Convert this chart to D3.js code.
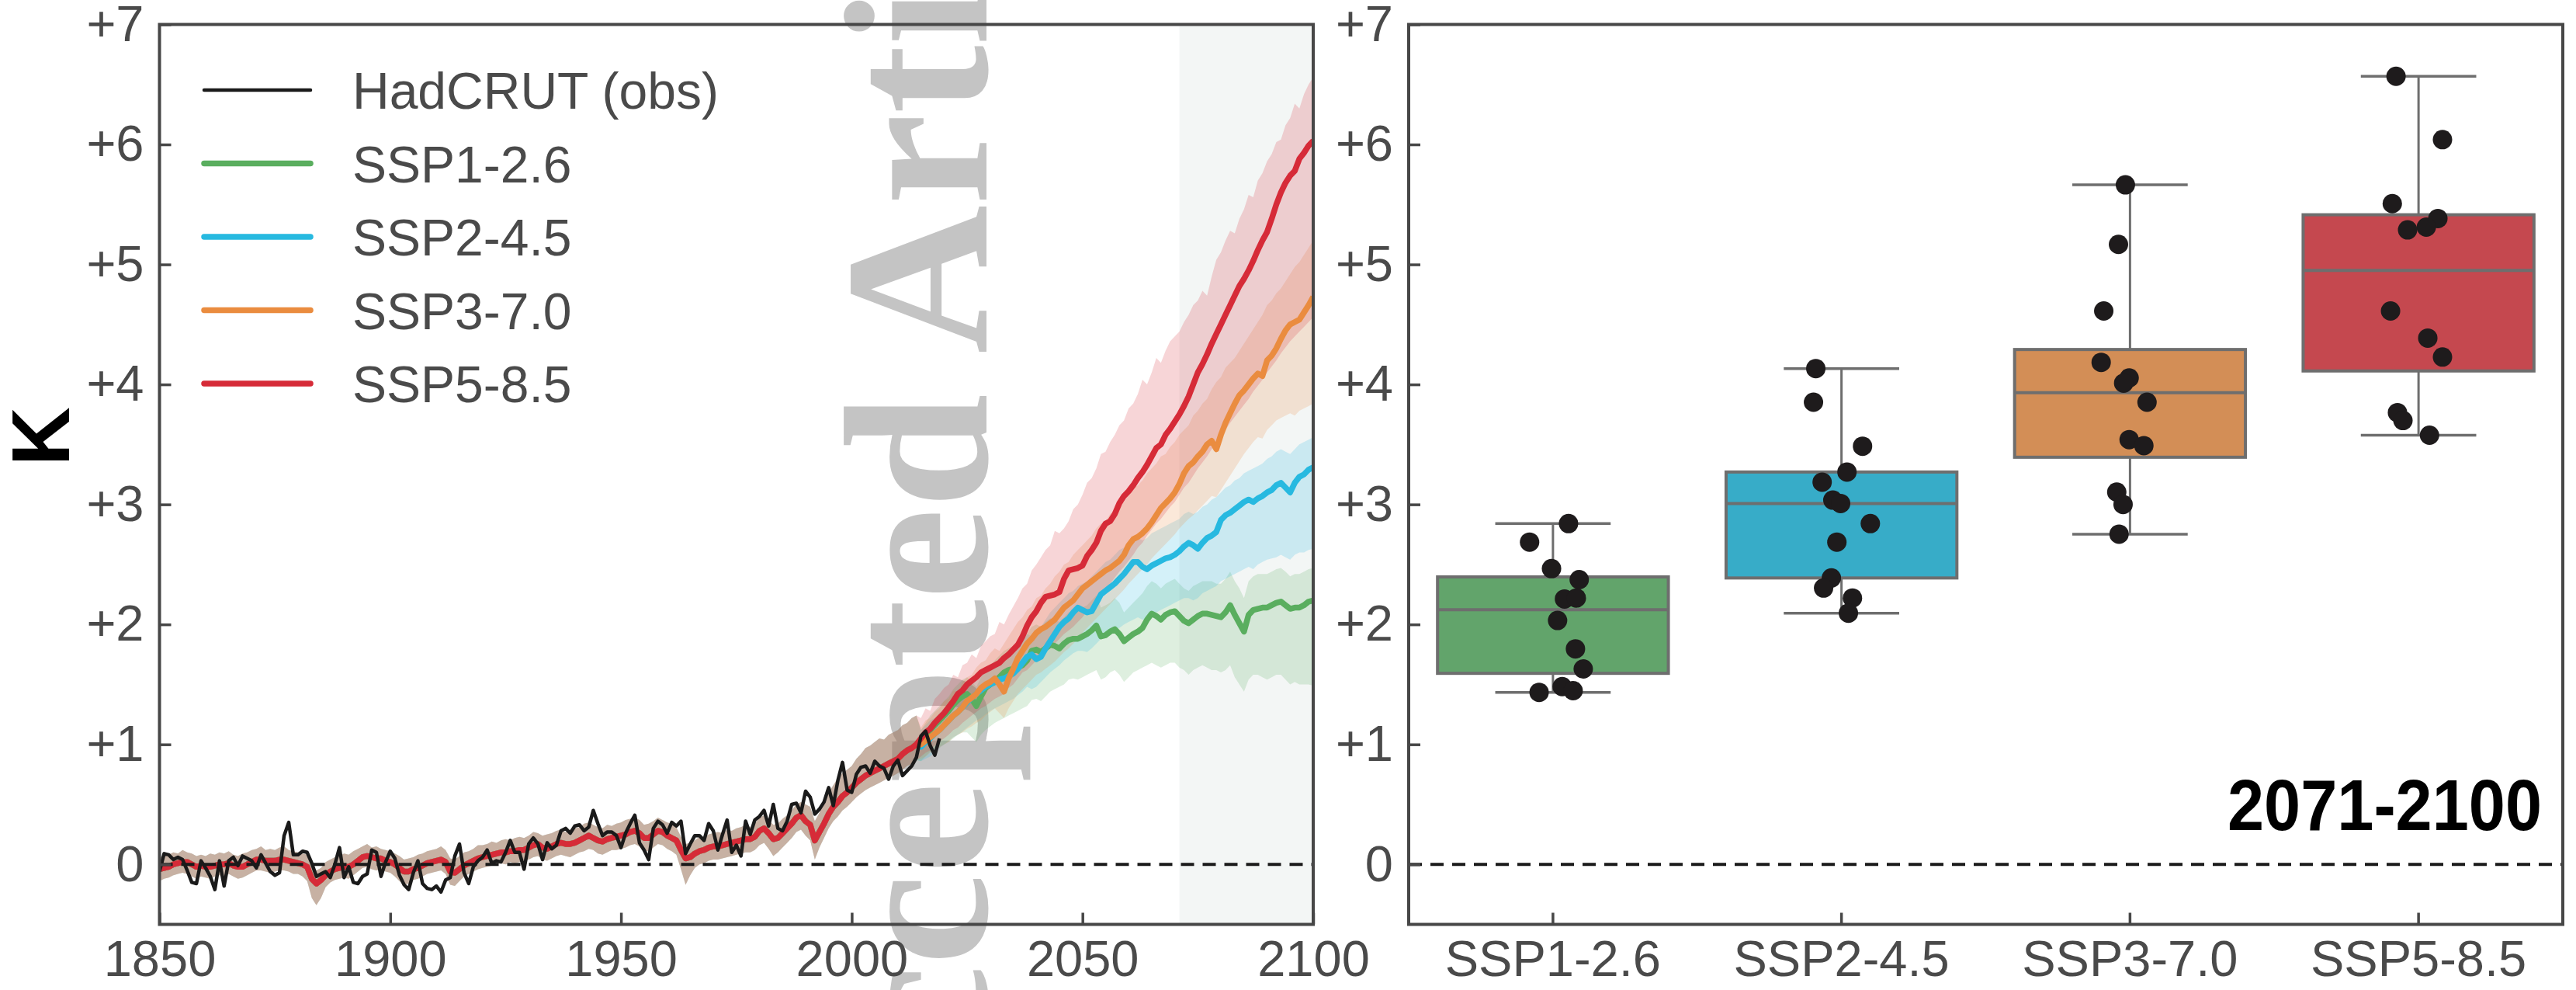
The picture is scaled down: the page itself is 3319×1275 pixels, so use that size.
<!DOCTYPE html>
<html>
<head>
<meta charset="utf-8">
<script src="https://cdn.jsdelivr.net/npm/d3@7"></script>
<style>
  html, body { margin: 0; padding: 0; background: #ffffff; }
  svg { display: block; }
</style>
</head>
<body>
<svg id="fig" width="3319" height="1275"></svg>
<script>
// ---------------------------------------------------------------------------
// Data
// ---------------------------------------------------------------------------
const scenarios = ["SSP1-2.6", "SSP2-4.5", "SSP3-7.0", "SSP5-8.5"];
const lineColors = ["#5aae5f", "#27b9e0", "#ea8c3f", "#d62b38"];
const boxColors = ["#62a46b", "#37acc8", "#d38e56", "#c5484f"];
const yTicks = [0, 1, 2, 3, 4, 5, 6, 7];
const xTicks = [1850, 1900, 1950, 2000, 2050, 2100];
const obsStart = 1850, histStart = 1850, futStart = 2015;
const periodWindow = [2071, 2100];
const periodLabel = "2071-2100";

// HadCRUT observed anomaly (K), annual, 1850-2019
const hadcrut = [
  -0.06, 0.09, 0.08, 0.04, 0.06, 0.04,-0.05,-0.15,-0.16, 0.03,
  -0.03,-0.10,-0.21, 0.03,-0.18, 0.03, 0.06,-0.01, 0.07, 0.05,
   0.03,-0.03, 0.08, 0.01,-0.06,-0.09,-0.07, 0.24, 0.35, 0.08,
   0.08, 0.11, 0.10, 0.01,-0.10,-0.08,-0.06,-0.11, 0.00, 0.14,
  -0.11,-0.02,-0.15,-0.16,-0.10,-0.08, 0.12, 0.10,-0.10, 0.02,
   0.11, 0.05,-0.09,-0.17,-0.21,-0.07, 0.03,-0.16,-0.20,-0.21,
  -0.18,-0.23,-0.13,-0.11, 0.07, 0.17,-0.07,-0.16,-0.02, 0.03,
   0.06, 0.12, 0.01, 0.03, 0.02, 0.10, 0.20, 0.10, 0.10,-0.04,
   0.17, 0.22, 0.17, 0.04, 0.18, 0.13, 0.16, 0.28, 0.30, 0.26,
   0.32, 0.33, 0.28, 0.31, 0.45, 0.34, 0.24, 0.27, 0.27, 0.24,
   0.14, 0.26, 0.34, 0.41, 0.18, 0.12, 0.04, 0.30, 0.36, 0.33,
   0.26, 0.35, 0.32, 0.36, 0.09, 0.17, 0.24, 0.24, 0.20, 0.34,
   0.28, 0.12, 0.25, 0.37, 0.10, 0.16, 0.07, 0.36, 0.25, 0.37,
   0.40, 0.45, 0.32, 0.50, 0.30, 0.28, 0.36, 0.50, 0.51, 0.43,
   0.61, 0.56, 0.42, 0.46, 0.52, 0.64, 0.49, 0.70, 0.85, 0.62,
   0.60, 0.75, 0.81, 0.82, 0.76, 0.86, 0.82, 0.80, 0.71, 0.82,
   0.87, 0.74, 0.78, 0.82, 0.89, 1.07, 1.11, 0.99, 0.91, 1.05
];

// Multi-model historical mean and range (K), 1850-2014
const histMean = [
  -0.04,-0.03,-0.02, 0.00, 0.01, 0.02, 0.02, 0.00,-0.02,-0.01,
  -0.02,-0.02,-0.01, 0.00, 0.00, 0.01,-0.01,-0.02,-0.02, 0.00,
   0.02, 0.04, 0.04, 0.03, 0.03, 0.03, 0.04, 0.04, 0.03, 0.02,
   0.01, 0.00,-0.02,-0.12,-0.16,-0.13,-0.09,-0.06,-0.04,-0.03,
  -0.02,-0.02, 0.00, 0.03, 0.06, 0.07, 0.06, 0.05, 0.05, 0.03,
   0.02, 0.00,-0.03,-0.06,-0.06,-0.04,-0.03,-0.01, 0.01, 0.02,
   0.03, 0.04, 0.02,-0.06,-0.07,-0.04,-0.01, 0.01, 0.03, 0.05,
   0.06, 0.07, 0.08, 0.09, 0.10, 0.10, 0.11, 0.11, 0.12, 0.12,
   0.14, 0.16, 0.17, 0.14, 0.13, 0.15, 0.17, 0.18, 0.17, 0.17,
   0.18, 0.20, 0.22, 0.24, 0.22, 0.20, 0.19, 0.21, 0.22, 0.23,
   0.24, 0.25, 0.27, 0.28, 0.26, 0.22, 0.22, 0.25, 0.28, 0.27,
   0.24, 0.22, 0.20, 0.12, 0.05, 0.06, 0.09, 0.11, 0.12, 0.14,
   0.15, 0.15, 0.16, 0.17, 0.18, 0.19, 0.20, 0.21, 0.21, 0.23,
   0.28, 0.30, 0.26, 0.21, 0.22, 0.26, 0.30, 0.34, 0.39, 0.41,
   0.36, 0.33, 0.20, 0.27, 0.34, 0.42, 0.48, 0.52, 0.57, 0.60,
   0.64, 0.68, 0.71, 0.74, 0.76, 0.78, 0.80, 0.82, 0.84, 0.86,
   0.88, 0.92, 0.95, 0.97, 1.00
];
const histHigh = [
   0.06, 0.07, 0.08, 0.10, 0.09, 0.12, 0.10, 0.09, 0.07, 0.08,
   0.07, 0.09, 0.08, 0.10, 0.09, 0.11, 0.08, 0.07, 0.09, 0.10,
   0.12, 0.13, 0.15, 0.12, 0.13, 0.12, 0.14, 0.15, 0.12, 0.11,
   0.10, 0.09, 0.08, 0.00,-0.05,-0.03, 0.02, 0.04, 0.06, 0.07,
   0.09, 0.08, 0.11, 0.13, 0.15, 0.17, 0.14, 0.15, 0.13, 0.12,
   0.11, 0.09, 0.07, 0.04, 0.05, 0.06, 0.08, 0.09, 0.11, 0.12,
   0.13, 0.15, 0.12, 0.05, 0.04, 0.07, 0.10, 0.11, 0.13, 0.16,
   0.16, 0.17, 0.19, 0.18, 0.20, 0.21, 0.20, 0.22, 0.23, 0.22,
   0.24, 0.27, 0.26, 0.24, 0.25, 0.26, 0.28, 0.29, 0.27, 0.29,
   0.30, 0.31, 0.34, 0.35, 0.33, 0.31, 0.30, 0.33, 0.32, 0.34,
   0.35, 0.37, 0.38, 0.39, 0.37, 0.33, 0.34, 0.36, 0.39, 0.37,
   0.35, 0.34, 0.31, 0.23, 0.17, 0.18, 0.20, 0.23, 0.22, 0.25,
   0.26, 0.27, 0.26, 0.29, 0.28, 0.30, 0.31, 0.33, 0.31, 0.34,
   0.39, 0.41, 0.37, 0.33, 0.34, 0.38, 0.41, 0.45, 0.50, 0.52,
   0.50, 0.48, 0.36, 0.43, 0.52, 0.60, 0.66, 0.72, 0.76, 0.79,
   0.82, 0.88, 0.92, 0.97, 0.99, 1.02, 1.05, 1.04, 1.08, 1.10,
   1.12, 1.16, 1.18, 1.22, 1.24
];
const histLow = [
  -0.14,-0.12,-0.11,-0.09,-0.08,-0.07,-0.08,-0.10,-0.12,-0.10,
  -0.11,-0.12,-0.10,-0.09,-0.10,-0.08,-0.10,-0.12,-0.11,-0.09,
  -0.07,-0.05,-0.05,-0.06,-0.07,-0.06,-0.05,-0.05,-0.06,-0.08,
  -0.08,-0.10,-0.14,-0.28,-0.34,-0.28,-0.19,-0.15,-0.13,-0.12,
  -0.11,-0.12,-0.09,-0.06,-0.03,-0.02,-0.04,-0.05,-0.04,-0.06,
  -0.07,-0.10,-0.14,-0.17,-0.16,-0.13,-0.12,-0.10,-0.08,-0.07,
  -0.06,-0.05,-0.08,-0.17,-0.18,-0.14,-0.10,-0.08,-0.06,-0.04,
  -0.03,-0.02,-0.01, 0.00, 0.01, 0.00, 0.02, 0.01, 0.02, 0.03,
   0.04, 0.06, 0.07, 0.04, 0.03, 0.05, 0.07, 0.08, 0.07, 0.06,
   0.08, 0.10, 0.11, 0.13, 0.12, 0.09, 0.08, 0.10, 0.12, 0.12,
   0.13, 0.14, 0.16, 0.17, 0.15, 0.11, 0.11, 0.14, 0.17, 0.16,
   0.13, 0.11, 0.08,-0.04,-0.17,-0.09,-0.03, 0.00, 0.01, 0.03,
   0.04, 0.04, 0.05, 0.06, 0.07, 0.08, 0.09, 0.10, 0.10, 0.12,
   0.16, 0.18, 0.13, 0.07, 0.10, 0.14, 0.18, 0.22, 0.27, 0.29,
   0.24, 0.20, 0.04, 0.14, 0.22, 0.30, 0.36, 0.40, 0.45, 0.48,
   0.52, 0.56, 0.59, 0.62, 0.64, 0.66, 0.68, 0.70, 0.72, 0.74,
   0.76, 0.79, 0.82, 0.84, 0.87
];

// Scenario projections (K), annual, 2015-2100: mean, lower and upper model range
const ssp126Mean = [
  1.00,1.06,1.12,1.16,1.20,1.24,1.28,1.33,1.37,1.40,
  1.42,1.38,1.32,1.40,1.47,1.50,1.52,1.56,1.60,1.62,
  1.63,1.64,1.66,1.70,1.78,1.79,1.77,1.80,1.83,1.82,
  1.80,1.84,1.87,1.88,1.88,1.90,1.92,1.95,1.99,1.90,
  1.91,1.94,1.96,1.92,1.86,1.89,1.92,1.94,1.97,2.04,
  2.09,2.07,2.04,2.08,2.10,2.11,2.07,2.03,2.01,2.04,
  2.07,2.09,2.09,2.08,2.07,2.06,2.10,2.16,2.08,2.01,
  1.94,2.08,2.12,2.13,2.14,2.14,2.16,2.18,2.19,2.16,
  2.13,2.14,2.14,2.16,2.19,2.20
];
const ssp126Low = [
  0.86,0.90,0.94,0.96,0.98,1.00,1.02,1.05,1.08,1.10,
  1.10,1.06,1.02,1.08,1.12,1.15,1.18,1.20,1.22,1.24,
  1.26,1.28,1.30,1.32,1.37,1.38,1.36,1.40,1.44,1.46,
  1.48,1.50,1.54,1.55,1.54,1.56,1.58,1.60,1.62,1.54,
  1.56,1.60,1.62,1.58,1.52,1.56,1.60,1.62,1.64,1.66,
  1.68,1.66,1.64,1.66,1.68,1.68,1.64,1.62,1.58,1.62,
  1.64,1.66,1.64,1.62,1.62,1.60,1.62,1.66,1.56,1.50,
  1.44,1.54,1.58,1.58,1.56,1.54,1.56,1.58,1.58,1.54,
  1.50,1.52,1.50,1.50,1.50,1.49
];
const ssp126High = [
  1.12,1.18,1.24,1.28,1.32,1.36,1.40,1.46,1.50,1.54,
  1.56,1.52,1.48,1.56,1.62,1.66,1.70,1.74,1.78,1.80,
  1.82,1.84,1.86,1.92,1.98,2.00,1.98,2.02,2.05,2.04,
  2.02,2.06,2.10,2.12,2.12,2.14,2.16,2.20,2.24,2.14,
  2.16,2.18,2.22,2.18,2.10,2.14,2.18,2.22,2.26,2.32,
  2.36,2.34,2.30,2.34,2.36,2.38,2.34,2.30,2.28,2.32,
  2.34,2.36,2.36,2.36,2.34,2.34,2.38,2.44,2.36,2.30,
  2.22,2.36,2.40,2.42,2.42,2.42,2.44,2.46,2.47,2.44,
  2.40,2.42,2.42,2.44,2.46,2.47
];

const ssp245Mean = [
  0.98,1.02,1.05,1.09,1.12,1.16,1.20,1.24,1.27,1.31,
  1.35,1.39,1.42,1.45,1.48,1.50,1.52,1.54,1.55,1.57,
  1.59,1.63,1.68,1.73,1.75,1.71,1.73,1.80,1.86,1.92,
  1.98,2.02,2.05,2.10,2.14,2.12,2.10,2.11,2.18,2.25,
  2.28,2.31,2.34,2.38,2.42,2.47,2.52,2.52,2.48,2.46,
  2.49,2.51,2.53,2.55,2.56,2.58,2.61,2.65,2.68,2.66,
  2.63,2.68,2.72,2.74,2.77,2.87,2.91,2.93,2.96,2.99,
  3.02,3.04,3.02,3.05,3.07,3.10,3.12,3.16,3.18,3.14,
  3.10,3.18,3.23,3.25,3.29,3.31
];
const ssp245Low = [
  0.86,0.88,0.90,0.93,0.97,1.00,1.03,1.06,1.08,1.11,
  1.14,1.17,1.20,1.22,1.25,1.28,1.30,1.32,1.34,1.36,
  1.38,1.41,1.44,1.48,1.46,1.48,1.52,1.56,1.60,1.63,
  1.66,1.70,1.73,1.76,1.78,1.78,1.77,1.80,1.84,1.88,
  1.90,1.92,1.95,1.97,2.00,2.02,2.04,2.06,2.04,2.04,
  2.08,2.10,2.12,2.14,2.16,2.18,2.20,2.22,2.22,2.20,
  2.22,2.26,2.28,2.30,2.32,2.36,2.38,2.40,2.42,2.44,
  2.46,2.48,2.46,2.50,2.52,2.54,2.55,2.56,2.58,2.56,
  2.54,2.58,2.60,2.60,2.62,2.63
];
const ssp245High = [
  1.12,1.16,1.20,1.22,1.26,1.30,1.33,1.38,1.40,1.44,
  1.48,1.50,1.54,1.58,1.62,1.66,1.68,1.72,1.74,1.78,
  1.80,1.84,1.88,1.92,1.90,1.95,1.98,2.04,2.10,2.14,
  2.18,2.22,2.26,2.28,2.32,2.34,2.36,2.40,2.44,2.48,
  2.52,2.54,2.58,2.62,2.64,2.66,2.70,2.72,2.70,2.72,
  2.76,2.78,2.80,2.82,2.84,2.86,2.88,2.92,2.94,2.92,
  2.94,2.98,3.00,3.04,3.06,3.10,3.14,3.16,3.20,3.22,
  3.26,3.28,3.30,3.32,3.34,3.38,3.40,3.44,3.46,3.44,
  3.42,3.46,3.50,3.52,3.54,3.56
];

const ssp370Mean = [
  1.00,1.03,1.06,1.09,1.12,1.16,1.20,1.24,1.27,1.31,
  1.36,1.39,1.42,1.47,1.50,1.52,1.55,1.50,1.44,1.55,
  1.63,1.72,1.78,1.84,1.88,1.93,1.96,1.98,2.01,2.04,
  2.09,2.14,2.17,2.20,2.25,2.30,2.33,2.36,2.39,2.42,
  2.45,2.47,2.50,2.53,2.58,2.66,2.71,2.73,2.76,2.80,
  2.85,2.91,2.97,3.01,3.05,3.10,3.17,3.26,3.32,3.35,
  3.40,3.44,3.50,3.53,3.46,3.58,3.68,3.76,3.84,3.91,
  3.95,4.00,4.05,4.09,4.07,4.20,4.24,4.30,4.38,4.45,
  4.50,4.52,4.54,4.60,4.66,4.73
];
const ssp370Low = [
  0.88,0.90,0.93,0.95,0.97,1.00,1.02,1.06,1.08,1.10,
  1.13,1.15,1.18,1.20,1.24,1.27,1.30,1.26,1.22,1.30,
  1.36,1.42,1.46,1.50,1.54,1.58,1.60,1.63,1.66,1.69,
  1.73,1.77,1.80,1.84,1.88,1.93,1.97,2.01,2.05,2.09,
  2.13,2.17,2.21,2.25,2.29,2.34,2.38,2.42,2.46,2.50,
  2.55,2.59,2.63,2.67,2.71,2.75,2.80,2.84,2.88,2.91,
  2.95,2.99,3.03,3.07,3.06,3.12,3.18,3.24,3.30,3.36,
  3.42,3.47,3.52,3.56,3.55,3.62,3.66,3.70,3.72,3.74,
  3.76,3.74,3.78,3.80,3.82,3.84
];
const ssp370High = [
  1.14,1.20,1.22,1.27,1.30,1.36,1.38,1.45,1.44,1.52,
  1.56,1.58,1.64,1.68,1.70,1.76,1.80,1.78,1.84,1.90,
  1.96,2.02,2.06,2.12,2.15,2.22,2.24,2.30,2.34,2.40,
  2.44,2.50,2.52,2.58,2.62,2.66,2.70,2.74,2.80,2.84,
  2.86,2.92,2.96,3.00,3.02,3.08,3.14,3.16,3.20,3.26,
  3.30,3.34,3.40,3.42,3.48,3.52,3.58,3.62,3.66,3.74,
  3.78,3.84,3.88,3.96,4.02,4.06,4.14,4.18,4.22,4.28,
  4.34,4.40,4.46,4.52,4.58,4.66,4.70,4.76,4.80,4.86,
  4.92,4.98,5.02,5.08,5.14,5.20
];

const ssp585Mean = [
  1.05,1.10,1.13,1.18,1.22,1.26,1.31,1.36,1.42,1.45,
  1.50,1.53,1.56,1.60,1.62,1.64,1.66,1.68,1.72,1.75,
  1.79,1.83,1.90,1.99,2.06,2.11,2.18,2.23,2.24,2.25,
  2.27,2.38,2.45,2.46,2.47,2.49,2.57,2.62,2.68,2.78,
  2.84,2.86,2.92,3.01,3.07,3.11,3.16,3.22,3.27,3.33,
  3.40,3.47,3.50,3.58,3.63,3.69,3.75,3.82,3.90,4.00,
  4.10,4.17,4.25,4.34,4.42,4.50,4.58,4.66,4.74,4.82,
  4.88,4.95,5.03,5.12,5.20,5.27,5.38,5.50,5.60,5.68,
  5.74,5.78,5.88,5.93,5.99,6.03
];
const ssp585Low = [
  0.90,0.93,0.95,0.99,1.02,1.05,1.08,1.12,1.14,1.18,
  1.21,1.24,1.27,1.30,1.32,1.35,1.38,1.40,1.42,1.47,
  1.50,1.55,1.60,1.62,1.66,1.70,1.74,1.78,1.80,1.84,
  1.88,1.92,1.95,1.98,2.02,2.06,2.11,2.15,2.20,2.26,
  2.30,2.34,2.39,2.44,2.48,2.53,2.58,2.64,2.68,2.74,
  2.79,2.84,2.88,2.93,2.98,3.02,3.08,3.14,3.18,3.24,
  3.30,3.35,3.40,3.46,3.51,3.57,3.62,3.68,3.73,3.78,
  3.83,3.88,3.94,3.99,4.04,4.10,4.15,4.20,4.26,4.31,
  4.36,4.40,4.44,4.48,4.52,4.56
];
const ssp585High = [
  1.22,1.30,1.28,1.38,1.42,1.47,1.50,1.58,1.56,1.66,
  1.68,1.75,1.72,1.82,1.86,1.90,1.92,2.02,2.00,2.08,
  2.15,2.22,2.30,2.34,2.45,2.50,2.56,2.62,2.66,2.78,
  2.76,2.80,2.86,2.96,3.00,3.08,3.18,3.22,3.30,3.42,
  3.44,3.52,3.58,3.66,3.70,3.80,3.84,3.92,4.04,4.00,
  4.10,4.22,4.18,4.28,4.36,4.40,4.44,4.52,4.58,4.66,
  4.70,4.78,4.74,4.90,5.04,5.10,5.20,5.28,5.26,5.38,
  5.46,5.58,5.56,5.70,5.76,5.86,5.92,6.02,6.04,6.16,
  6.22,6.34,6.30,6.42,6.50,6.56
];

// Per-model 2071-2100 mean warming (K) and horizontal jitter (fraction of band)
const ssp126Models = [2.84, 2.686, 2.465, 2.373, 2.212, 2.22, 2.033, 1.796, 1.629, 1.482, 1.448, 1.434];
const ssp126Jitter = [0.054, -0.081, -0.005, 0.091, 0.040, 0.081, 0.016, 0.078, 0.105, 0.032, 0.070, -0.048];
const ssp245Models = [4.132, 3.852, 3.485, 3.27, 3.186, 3.036, 3.008, 2.84, 2.686, 2.387, 2.303, 2.22, 2.094];
const ssp245Jitter = [-0.089, -0.097, 0.073, 0.019, -0.067, -0.030, -0.003, 0.100, -0.016, -0.035, -0.062, 0.038, 0.024];
const ssp370Models = [5.663, 5.167, 4.612, 4.184, 4.054, 4.011, 3.852, 3.54, 3.49, 3.103, 3.0, 2.752];
const ssp370Jitter = [-0.016, -0.040, -0.091, -0.100, -0.003, -0.022, 0.059, -0.003, 0.048, -0.046, -0.024, -0.038];
const ssp585Models = [6.568, 6.04, 5.507, 5.383, 5.311, 5.288, 4.612, 4.386, 4.228, 3.765, 3.699, 3.577];
const ssp585Jitter = [-0.078, 0.083, -0.091, 0.067, 0.027, -0.038, -0.097, 0.032, 0.083, -0.073, -0.054, 0.038];

// ---------------------------------------------------------------------------
// Layout and scales
// ---------------------------------------------------------------------------
const svg = d3.select("#fig");
const FONT = "'Liberation Sans', Arial, Helvetica, sans-serif";
const TEXT = "#4a4a4a";
const SPINE = "#474747";
const left = { x0: 205.5, x1: 1692, y0: 31.5, y1: 1190.5 };
const right = { x0: 1815, x1: 3302 };

const x = d3.scaleLinear([1850, 2100], [left.x0, left.x1]);
const y = d3.scaleLinear([-0.5, 7], [left.y1, left.y0]);
const xb = d3.scaleBand(scenarios, [right.x0, right.x1]).paddingInner(0).paddingOuter(0);

const fmtK = v => (v > 0 ? "+" + v : String(v));

const futMeans = [ssp126Mean, ssp245Mean, ssp370Mean, ssp585Mean];
const futLows = [ssp126Low, ssp245Low, ssp370Low, ssp585Low];
const futHighs = [ssp126High, ssp245High, ssp370High, ssp585High];
const models = [ssp126Models, ssp245Models, ssp370Models, ssp585Models];
const jitters = [ssp126Jitter, ssp245Jitter, ssp370Jitter, ssp585Jitter];

const series = scenarios.map((name, i) => {
  const hist = histMean.map((v, k) => ({ year: histStart + k, mean: v, lo: histLow[k], hi: histHigh[k] }));
  const fut = futMeans[i].map((v, k) => ({ year: futStart + k, mean: v, lo: futLows[i][k], hi: futHighs[i][k] }));
  return { name, color: lineColors[i], pts: hist.concat(fut) };
});
const obs = hadcrut.map((v, k) => ({ year: obsStart + k, v }));

// ---------------------------------------------------------------------------
// Left panel: time series
// ---------------------------------------------------------------------------
svg.append("defs").append("clipPath").attr("id", "clipL")
  .append("rect")
  .attr("x", left.x0).attr("y", left.y0)
  .attr("width", left.x1 - left.x0).attr("height", left.y1 - left.y0);

// averaging window highlight
svg.append("rect")
  .attr("x", x(periodWindow[0])).attr("y", left.y0)
  .attr("width", x(periodWindow[1]) - x(periodWindow[0]))
  .attr("height", left.y1 - left.y0)
  .attr("fill", "#f3f6f5");

// stamp text across the figure
svg.append("text")
  .attr("transform", "translate(1271,1552) rotate(-90)")
  .attr("font-family", "'Liberation Serif', 'Times New Roman', serif")
  .attr("font-weight", "bold")
  .attr("font-size", 265)
  .attr("fill", "#c4c4c4")
  .text("Accepted Article");

const gL = svg.append("g").attr("clip-path", "url(#clipL)");

const area = d3.area()
  .x(d => x(d.year)).y0(d => y(d.lo)).y1(d => y(d.hi));
const line = d3.line()
  .x(d => x(d.year)).y(d => y(d.mean));

gL.selectAll("path.band").data(series).join("path")
  .attr("class", "band")
  .attr("d", d => area(d.pts))
  .attr("fill", d => d.color)
  .attr("fill-opacity", 0.2)
  .attr("stroke", "none");

gL.selectAll("path.mean").data(series).join("path")
  .attr("class", "mean")
  .attr("d", d => line(d.pts))
  .attr("fill", "none")
  .attr("stroke", d => d.color)
  .attr("stroke-width", 7.5)
  .attr("stroke-linejoin", "round");

gL.append("line")
  .attr("x1", left.x0).attr("x2", left.x1)
  .attr("y1", y(0)).attr("y2", y(0))
  .attr("stroke", "#1a1a1a").attr("stroke-width", 4)
  .attr("stroke-dasharray", "17,11");

gL.append("path")
  .datum(obs)
  .attr("d", d3.line().x(d => x(d.year)).y(d => y(d.v)))
  .attr("fill", "none")
  .attr("stroke", "#1a1a1a")
  .attr("stroke-width", 4.5)
  .attr("stroke-linejoin", "round");

// frame
svg.append("rect")
  .attr("x", left.x0).attr("y", left.y0)
  .attr("width", left.x1 - left.x0).attr("height", left.y1 - left.y0)
  .attr("fill", "none").attr("stroke", SPINE).attr("stroke-width", 4);

function styleAxis(g) {
  g.select(".domain").remove();
  g.selectAll(".tick line").attr("stroke", SPINE).attr("stroke-width", 3.5);
  g.selectAll(".tick text")
    .attr("fill", TEXT)
    .attr("font-family", FONT)
    .attr("font-size", 65);
}

svg.append("g")
  .attr("transform", `translate(${left.x0},0)`)
  .call(d3.axisLeft(y).tickValues(yTicks).tickFormat(fmtK).tickSizeInner(-15).tickSizeOuter(0).tickPadding(20))
  .call(styleAxis);

svg.append("g")
  .attr("transform", `translate(0,${left.y1})`)
  .call(d3.axisBottom(x).tickValues(xTicks).tickFormat(d3.format("d")).tickSizeInner(-15).tickSizeOuter(0).tickPadding(20))
  .call(styleAxis);

// y-axis unit label
svg.append("text")
  .attr("transform", "translate(89,562) rotate(-90)")
  .attr("text-anchor", "middle")
  .attr("font-family", FONT)
  .attr("font-weight", "bold")
  .attr("font-size", 105)
  .attr("fill", "#000")
  .text("K");

// legend
const legendItems = [{ name: "HadCRUT (obs)", color: "#1a1a1a", w: 4.5 }]
  .concat(scenarios.map((s, i) => ({ name: s, color: lineColors[i], w: 7.5 })));
const lg = svg.append("g");
legendItems.forEach((d, i) => {
  const ly = 116 + i * 94.5;
  lg.append("line")
    .attr("x1", 263).attr("x2", 400).attr("y1", ly).attr("y2", ly)
    .attr("stroke", d.color).attr("stroke-width", d.w).attr("stroke-linecap", "round");
  lg.append("text")
    .attr("x", 454).attr("y", ly + 24)
    .attr("font-family", FONT).attr("font-size", 66).attr("fill", TEXT)
    .text(d.name);
});

// ---------------------------------------------------------------------------
// Right panel: 2071-2100 box plots with individual models
// ---------------------------------------------------------------------------
svg.append("line")
  .attr("x1", right.x0).attr("x2", right.x1)
  .attr("y1", y(0)).attr("y2", y(0))
  .attr("stroke", "#1a1a1a").attr("stroke-width", 4)
  .attr("stroke-dasharray", "17,11");

const BOXEDGE = "#6e6e6e";
const bw = xb.bandwidth();
scenarios.forEach((s, i) => {
  const vals = models[i].slice().sort(d3.ascending);
  const q1 = d3.quantile(vals, 0.25), med = d3.quantile(vals, 0.5), q3 = d3.quantile(vals, 0.75);
  const lo = d3.min(vals), hi = d3.max(vals);
  const cx = xb(s) + bw / 2;
  const g = svg.append("g");
  // whiskers
  g.append("line").attr("x1", cx).attr("x2", cx).attr("y1", y(q3)).attr("y2", y(hi))
    .attr("stroke", BOXEDGE).attr("stroke-width", 3);
  g.append("line").attr("x1", cx).attr("x2", cx).attr("y1", y(q1)).attr("y2", y(lo))
    .attr("stroke", BOXEDGE).attr("stroke-width", 3);
  [lo, hi].forEach(v => g.append("line")
    .attr("x1", cx - bw * 0.2).attr("x2", cx + bw * 0.2).attr("y1", y(v)).attr("y2", y(v))
    .attr("stroke", BOXEDGE).attr("stroke-width", 3.5));
  // box
  g.append("rect")
    .attr("x", cx - bw * 0.4).attr("width", bw * 0.8)
    .attr("y", y(q3)).attr("height", y(q1) - y(q3))
    .attr("fill", boxColors[i]).attr("stroke", BOXEDGE).attr("stroke-width", 4);
  g.append("line")
    .attr("x1", cx - bw * 0.4).attr("x2", cx + bw * 0.4).attr("y1", y(med)).attr("y2", y(med))
    .attr("stroke", BOXEDGE).attr("stroke-width", 4);
  // individual models
  g.selectAll("circle").data(models[i]).join("circle")
    .attr("cx", (d, k) => cx + jitters[i][k] * bw)
    .attr("cy", d => y(d))
    .attr("r", 12.5)
    .attr("fill", "#1e1b1c");
});

svg.append("rect")
  .attr("x", right.x0).attr("y", left.y0)
  .attr("width", right.x1 - right.x0).attr("height", left.y1 - left.y0)
  .attr("fill", "none").attr("stroke", SPINE).attr("stroke-width", 4);

svg.append("g")
  .attr("transform", `translate(${right.x0},0)`)
  .call(d3.axisLeft(y).tickValues(yTicks).tickFormat(fmtK).tickSizeInner(-15).tickSizeOuter(0).tickPadding(20))
  .call(styleAxis);

svg.append("g")
  .attr("transform", `translate(0,${left.y1})`)
  .call(d3.axisBottom(xb).tickSizeInner(-15).tickSizeOuter(0).tickPadding(20))
  .call(styleAxis);

svg.append("text")
  .attr("x", 3275).attr("y", 1069)
  .attr("text-anchor", "end")
  .attr("font-family", FONT).attr("font-weight", "bold").attr("font-size", 93)
  .attr("textLength", 405).attr("lengthAdjust", "spacingAndGlyphs")
  .attr("fill", "#000")
  .text(periodLabel);
</script>
</body>
</html>
